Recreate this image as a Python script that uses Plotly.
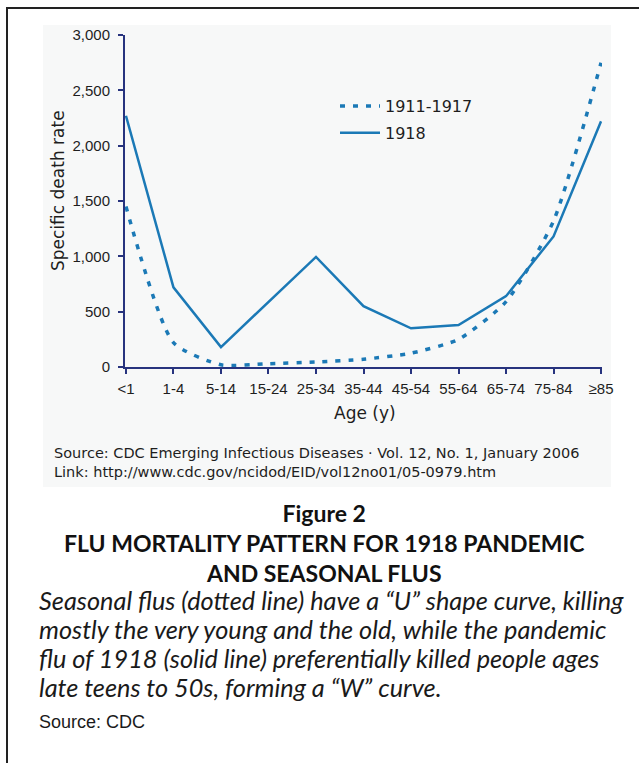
import plotly.graph_objects as go

W, H = 639, 763

age_groups = ["<1", "1-4", "5-14", "15-24", "25-34", "35-44", "45-54", "55-64", "65-74", "75-84", "≥85"]
rate_1911_1917 = [1450, 220, 20, 30, 45, 70, 125, 250, 590, 1320, 2750]
rate_1918 = [2270, 720, 180, 590, 995, 550, 350, 380, 640, 1180, 2220]
y_ticks = [0, 500, 1000, 1500, 2000, 2500, 3000]

LINE = "#1b79b6"
AXIS = "#27337e"
TXT = "#1e1e1e"

def px(x):
    return x / W

def py(y):
    return 1 - y / H

xpos = list(range(len(age_groups)))

fig = go.Figure()
fig.add_trace(go.Scatter(
    x=xpos, y=rate_1911_1917, mode="lines", name="1911-1917",
    line=dict(color=LINE, width=3.5, dash="5px,8px", shape="spline", smoothing=0.6),
    legendgroup="a",
))
fig.add_trace(go.Scatter(
    x=xpos, y=rate_1918, mode="lines", name="1918",
    line=dict(color=LINE, width=2.5),
    legendgroup="b",
))

x0, x1, y0, y1 = 125, 602, 35, 367

fig.update_layout(
    width=W, height=H,
    margin=dict(l=0, r=0, t=0, b=0, autoexpand=False),
    paper_bgcolor="white",
    plot_bgcolor="rgba(0,0,0,0)",
    showlegend=True,
    legend=dict(
        x=px(335), y=py(89), xanchor="left", yanchor="top",
        bgcolor="rgba(0,0,0,0)", borderwidth=0,
        font=dict(family="DejaVu Sans", size=16, color=TXT),
        tracegroupgap=3, itemwidth=40,
    ),
    xaxis=dict(
        domain=[px(x0), px(x1)],
        range=[-0.02, 10.02],
        tickvals=xpos, ticktext=age_groups,
        showgrid=False, zeroline=False,
        showline=True, linecolor=AXIS, linewidth=2,
        ticks="outside", ticklen=5, tickwidth=1.5, tickcolor=AXIS,
        tickfont=dict(family="Liberation Sans", size=15, color=TXT),
        ticklabelstandoff=2,
        automargin=False,
        fixedrange=True,
    ),
    yaxis=dict(
        domain=[py(y1), py(y0)],
        range=[0, 3000],
        tickvals=y_ticks, tickformat=",d",
        showgrid=False, zeroline=False,
        showline=True, linecolor=AXIS, linewidth=2,
        ticks="outside", ticklen=5, tickwidth=1.5, tickcolor=AXIS,
        tickfont=dict(family="Liberation Sans", size=15, color=TXT),
        ticklabelstandoff=5,
        automargin=False,
        fixedrange=True,
    ),
    shapes=[
        dict(type="rect", xref="paper", yref="paper", layer="below",
             x0=px(43), x1=px(611), y0=py(487), y1=py(25),
             fillcolor="#f7f8f8", line=dict(width=0)),
        dict(type="line", xref="paper", yref="paper",
             x0=px(6), x1=px(639), y0=py(8), y1=py(8),
             line=dict(color="#222222", width=2)),
        dict(type="line", xref="paper", yref="paper",
             x0=px(7), x1=px(7), y0=py(7), y1=py(763),
             line=dict(color="#222222", width=2)),
    ],
)

ann = []
ann.append(dict(text="Specific death rate", x=px(58), y=py(191), textangle=-90,
                font=dict(family="DejaVu Sans", size=17, color=TXT)))
ann.append(dict(text="Age (y)", x=px(365), y=py(413),
                font=dict(family="DejaVu Sans", size=17, color=TXT)))
ann.append(dict(text="Source: CDC Emerging Infectious Diseases · Vol. 12, No. 1, January 2006"
                     "<br>Link: http://www.cdc.gov/ncidod/EID/vol12no01/05-0979.htm",
                x=px(52), y=py(462), xanchor="left", align="left",
                font=dict(family="DejaVu Sans", size=14.5, color=TXT)))
ann.append(dict(text="<b>Figure 2</b><br><b>FLU MORTALITY PATTERN FOR 1918 PANDEMIC</b>"
                     "<br><b>AND SEASONAL FLUS</b>",
                x=px(324), y=py(543), align="center",
                font=dict(family="Lato", size=23, color="#111111")))
body = [
    "Seasonal flus (dotted line) have a “U” shape curve, killing",
    "mostly the very young and the old, while the pandemic",
    "flu of 1918 (solid line) preferentially killed people ages",
    "late teens to 50s, forming a “W” curve.",
]
for i, line in enumerate(body):
    ann.append(dict(text="<i>" + line + "</i>", x=px(37), y=py(600 + 29 * i), xanchor="left",
                    font=dict(family="Lato", size=25.3, color="#1a1a1a")))
ann.append(dict(text="Source: CDC", x=px(37), y=py(722), xanchor="left",
                font=dict(family="Liberation Sans", size=18, color="#1a1a1a")))

for a in ann:
    a.setdefault("xref", "paper")
    a.setdefault("yref", "paper")
    a.setdefault("showarrow", False)
    a.setdefault("xanchor", "center")
    a.setdefault("yanchor", "middle")
fig.update_layout(annotations=ann)

fig.write_html(
    "out.html",
    config={"displayModeBar": False},
    post_script="document.body.style.margin='0';document.documentElement.style.overflow='hidden';",
)
